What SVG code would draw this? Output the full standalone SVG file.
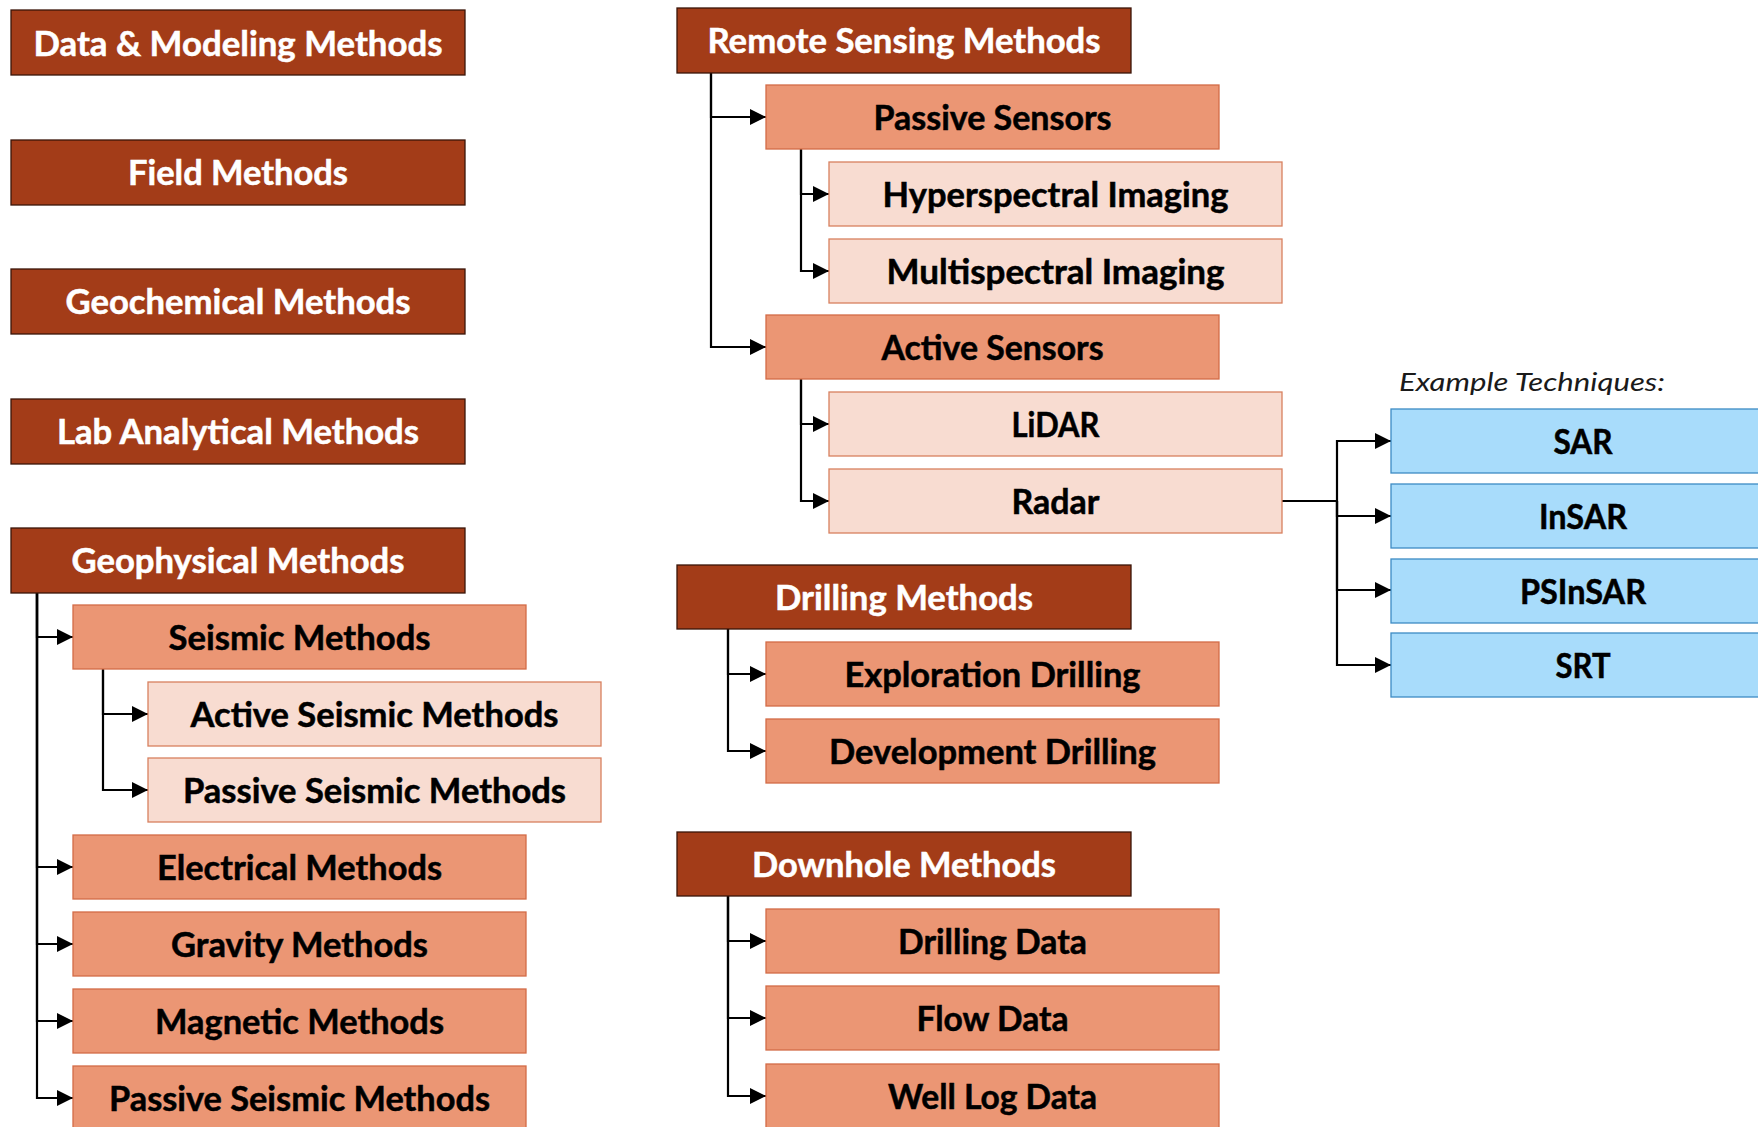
<svg xmlns="http://www.w3.org/2000/svg" width="1758" height="1127" viewBox="0 0 1758 1127">
<style>
.l1{fill:#A33C18;stroke:#3a1508;stroke-width:1.3}
.l2{fill:#EB9674;stroke:#D36C47;stroke-width:1.3}
.l3{fill:#F8DCD1;stroke:#D8805F;stroke-width:1.3}
.l4{fill:#A8DCFB;stroke:#3C8BC4;stroke-width:1.3}
text{font-family:Lato,"Open Sans","Liberation Sans",sans-serif;font-weight:700;font-size:33.5px;text-anchor:middle}
.w{fill:#ffffff;stroke:#ffffff;stroke-width:0.5}
.k{fill:#000000;stroke:#000000;stroke-width:0.5}
.it{font-weight:400;font-style:italic;font-size:26px;text-anchor:start;fill:#1a1a1a}
.c path{fill:none;stroke:#000;stroke-width:2.2;marker-end:url(#ah)}
.c path.n{marker-end:none}
</style>
<defs>
<marker id="ah" viewBox="0 0 16 16" refX="16" refY="8" markerWidth="16" markerHeight="16" markerUnits="userSpaceOnUse" orient="auto">
<path d="M0,0 L16,8 L0,16 z" fill="#000"/>
</marker>
</defs>
<rect width="1758" height="1127" fill="#fff"/>

<g class="c" id="connectors">
<path d="M37,593 V637 H73"/>
<path d="M37,593 V867 H73"/>
<path d="M37,593 V944 H73"/>
<path d="M37,593 V1021 H73"/>
<path d="M37,593 V1098 H73"/>
<path d="M103,669 V714 H148"/>
<path d="M103,669 V790 H148"/>
<path d="M711,73 V117 H766"/>
<path d="M711,73 V347 H766"/>
<path d="M801,149 V194 H829"/>
<path d="M801,149 V271 H829"/>
<path d="M801,379 V424 H829"/>
<path d="M801,379 V501 H829"/>
<path d="M728,629 V674 H766"/>
<path d="M728,629 V751 H766"/>
<path d="M728,893 V941 H766"/>
<path d="M728,893 V1018 H766"/>
<path d="M728,893 V1096 H766"/>
<path class="n" d="M1282,501 H1337"/>
<path d="M1337,501 V441 H1391"/>
<path d="M1337,501 V516 H1391"/>
<path d="M1337,501 V590 H1391"/>
<path d="M1337,501 V665 H1391"/>
</g>

<g id="data-modeling"><rect class="l1" x="11" y="10" width="454" height="65"/><text class="w" x="238" y="56" textLength="409" lengthAdjust="spacingAndGlyphs">Data &amp; Modeling Methods</text></g>
<g id="field"><rect class="l1" x="11" y="140" width="454" height="65"/><text class="w" x="238" y="185" textLength="220" lengthAdjust="spacingAndGlyphs">Field Methods</text></g>
<g id="geochemical"><rect class="l1" x="11" y="269" width="454" height="65"/><text class="w" x="238" y="314" textLength="345" lengthAdjust="spacingAndGlyphs">Geochemical Methods</text></g>
<g id="lab"><rect class="l1" x="11" y="399" width="454" height="65"/><text class="w" x="238" y="444" textLength="362" lengthAdjust="spacingAndGlyphs">Lab Analytical Methods</text></g>
<g id="geophysical"><rect class="l1" x="11" y="528" width="454" height="65"/><text class="w" x="238" y="573" textLength="333" lengthAdjust="spacingAndGlyphs">Geophysical Methods</text></g>

<g id="seismic"><rect class="l2" x="73" y="605" width="453" height="64"/><text class="k" x="299.5" y="650" textLength="262" lengthAdjust="spacingAndGlyphs">Seismic Methods</text></g>
<g id="active-seismic"><rect class="l3" x="148" y="682" width="453" height="64"/><text class="k" x="374.5" y="727" textLength="368" lengthAdjust="spacingAndGlyphs">Active Seismic Methods</text></g>
<g id="passive-seismic-sub"><rect class="l3" x="148" y="758" width="453" height="64"/><text class="k" x="374.5" y="803" textLength="383" lengthAdjust="spacingAndGlyphs">Passive Seismic Methods</text></g>
<g id="electrical"><rect class="l2" x="73" y="835" width="453" height="64"/><text class="k" x="299.5" y="880" textLength="285" lengthAdjust="spacingAndGlyphs">Electrical Methods</text></g>
<g id="gravity"><rect class="l2" x="73" y="912" width="453" height="64"/><text class="k" x="299.5" y="957" textLength="257" lengthAdjust="spacingAndGlyphs">Gravity Methods</text></g>
<g id="magnetic"><rect class="l2" x="73" y="989" width="453" height="64"/><text class="k" x="299.5" y="1034" textLength="289" lengthAdjust="spacingAndGlyphs">Magnetic Methods</text></g>
<g id="passive-seismic"><rect class="l2" x="73" y="1066" width="453" height="64"/><text class="k" x="299.5" y="1111" textLength="381" lengthAdjust="spacingAndGlyphs">Passive Seismic Methods</text></g>

<g id="remote-sensing"><rect class="l1" x="677" y="8" width="454" height="65"/><text class="w" x="904" y="53" textLength="393" lengthAdjust="spacingAndGlyphs">Remote Sensing Methods</text></g>
<g id="passive-sensors"><rect class="l2" x="766" y="85" width="453" height="64"/><text class="k" x="992.5" y="130" textLength="238" lengthAdjust="spacingAndGlyphs">Passive Sensors</text></g>
<g id="hyperspectral"><rect class="l3" x="829" y="162" width="453" height="64"/><text class="k" x="1055.5" y="207" textLength="346" lengthAdjust="spacingAndGlyphs">Hyperspectral Imaging</text></g>
<g id="multispectral"><rect class="l3" x="829" y="239" width="453" height="64"/><text class="k" x="1055.5" y="284" textLength="338" lengthAdjust="spacingAndGlyphs">Multispectral Imaging</text></g>
<g id="active-sensors"><rect class="l2" x="766" y="315" width="453" height="64"/><text class="k" x="992.5" y="360" textLength="222" lengthAdjust="spacingAndGlyphs">Active Sensors</text></g>
<g id="lidar"><rect class="l3" x="829" y="392" width="453" height="64"/><text class="k" x="1055.5" y="437" textLength="88" lengthAdjust="spacingAndGlyphs">LiDAR</text></g>
<g id="radar"><rect class="l3" x="829" y="469" width="453" height="64"/><text class="k" x="1055.5" y="514" textLength="88" lengthAdjust="spacingAndGlyphs">Radar</text></g>

<g id="drilling"><rect class="l1" x="677" y="565" width="454" height="64"/><text class="w" x="904" y="610" textLength="258" lengthAdjust="spacingAndGlyphs">Drilling Methods</text></g>
<g id="exploration-drilling"><rect class="l2" x="766" y="642" width="453" height="64"/><text class="k" x="992.5" y="687" textLength="296" lengthAdjust="spacingAndGlyphs">Exploration Drilling</text></g>
<g id="development-drilling"><rect class="l2" x="766" y="719" width="453" height="64"/><text class="k" x="992.5" y="764" textLength="327" lengthAdjust="spacingAndGlyphs">Development Drilling</text></g>

<g id="downhole"><rect class="l1" x="677" y="832" width="454" height="64"/><text class="w" x="904" y="877" textLength="304" lengthAdjust="spacingAndGlyphs">Downhole Methods</text></g>
<g id="drilling-data"><rect class="l2" x="766" y="909" width="453" height="64"/><text class="k" x="992.5" y="954" textLength="189" lengthAdjust="spacingAndGlyphs">Drilling Data</text></g>
<g id="flow-data"><rect class="l2" x="766" y="986" width="453" height="64"/><text class="k" x="992.5" y="1031" textLength="152" lengthAdjust="spacingAndGlyphs">Flow Data</text></g>
<g id="well-log-data"><rect class="l2" x="766" y="1064" width="453" height="64"/><text class="k" x="992.5" y="1109" textLength="209" lengthAdjust="spacingAndGlyphs">Well Log Data</text></g>

<g id="example-label"><text class="it" x="1399" y="391" textLength="266" lengthAdjust="spacingAndGlyphs">Example Techniques:</text></g>
<g id="sar"><rect class="l4" x="1391" y="409" width="384" height="64"/><text class="k" x="1583" y="454" textLength="59" lengthAdjust="spacingAndGlyphs">SAR</text></g>
<g id="insar"><rect class="l4" x="1391" y="484" width="384" height="64"/><text class="k" x="1583" y="529" textLength="88" lengthAdjust="spacingAndGlyphs">InSAR</text></g>
<g id="psinsar"><rect class="l4" x="1391" y="559" width="384" height="64"/><text class="k" x="1583" y="604" textLength="126" lengthAdjust="spacingAndGlyphs">PSInSAR</text></g>
<g id="srt"><rect class="l4" x="1391" y="633" width="384" height="64"/><text class="k" x="1583" y="678" textLength="55" lengthAdjust="spacingAndGlyphs">SRT</text></g>
</svg>
